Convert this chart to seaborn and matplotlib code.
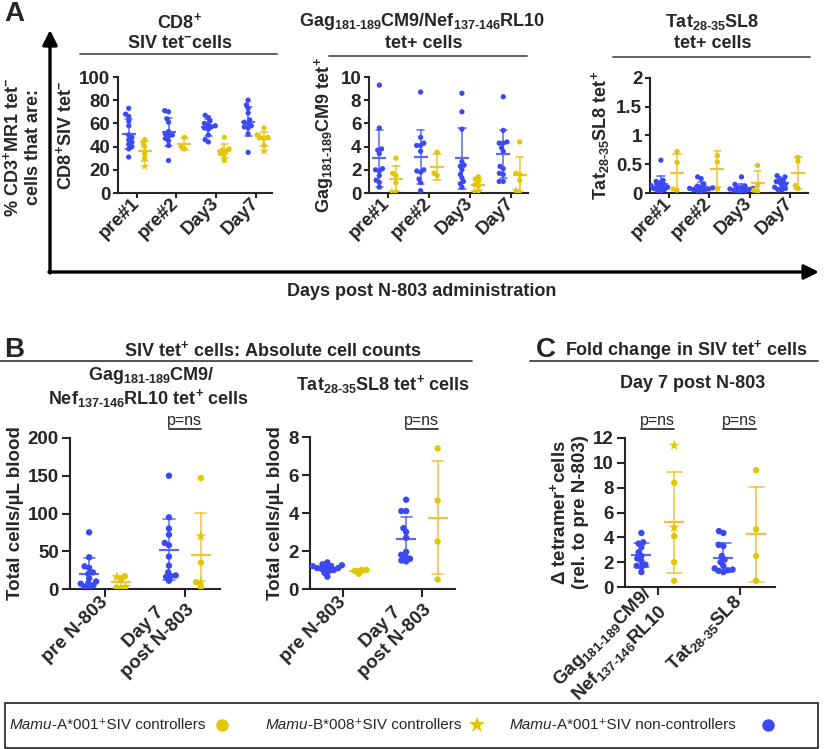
import warnings
warnings.filterwarnings('ignore')
import numpy as np
import pandas as pd
import matplotlib
matplotlib.use('Agg')
import matplotlib.pyplot as plt
import seaborn as sns
from matplotlib.markers import MarkerStyle
from matplotlib.patches import FancyArrowPatch, Rectangle
from matplotlib.lines import Line2D
from matplotlib.transforms import blended_transform_factory, Affine2D
from matplotlib.colors import to_rgba

# ------------------------------------------------------------------ data
days_A = ['pre#1', 'pre#2', 'Day3', 'Day7']

cd8_nc = [[73, 68, 66, 62, 58, 50, 48, 46, 44, 42, 40, 38, 31],
          [71, 70, 64, 61, 53, 51, 50, 49, 47, 45, 41, 28],
          [67, 65, 62, 60, 59, 58, 57, 56, 55, 50, 46, 44],
          [80, 76, 73, 69, 63, 61, 60, 58, 57, 56, 51, 35]]
cd8_a001 = [[46, 40, 34, 30], [48, 40, 38], [48, 38, 36, 34, 28], [56, 50, 48, 47, 41]]
cd8_b008 = [[43, 23], [], [37, 33], [48, 36]]

gag_nc = [[9.3, 5.6, 3.8, 3.7, 3.4, 2.1, 2.0, 1.9, 1.5, 1.1, 0.9, 0.5],
          [8.7, 4.8, 4.3, 4.1, 4.1, 3.6, 2.0, 1.9, 1.8, 1.2, 0.9, 0.2],
          [8.6, 7.0, 5.5, 2.7, 2.4, 2.3, 2.0, 1.6, 1.3, 1.0, 0.8, 0.5],
          [8.3, 5.4, 4.4, 4.3, 4.3, 3.9, 3.6, 2.3, 2.1, 1.7, 1.6, 1.0, 1.0]]
gag_a001 = [[3.0, 1.7, 1.5, 0.9], [3.5, 1.7, 1.5], [1.4, 1.2, 1.0, 0.7, 0.6], [4.4, 1.7, 1.6, 1.1]]
gag_b008 = [[0.1, 0.1], [], [0.1, 0.1], [0.1, 0.2]]

tat_nc = [[0.57, 0.22, 0.2, 0.18, 0.15, 0.13, 0.12, 0.1, 0.1, 0.08, 0.06, 0.05, 0.03],
          [0.28, 0.25, 0.15, 0.12, 0.1, 0.09, 0.08, 0.07, 0.06, 0.05, 0.04, 0.03],
          [0.28, 0.15, 0.12, 0.1, 0.09, 0.08, 0.07, 0.06, 0.05, 0.04, 0.03, 0.02],
          [0.3, 0.28, 0.25, 0.22, 0.2, 0.18, 0.15, 0.12, 0.1, 0.08, 0.06, 0.05]]
tat_a001 = [[0.72, 0.53, 0.07, 0.05], [0.65, 0.54, 0.07], [0.48, 0.13, 0.05, 0.03], [0.62, 0.55, 0.13, 0.08]]
tat_b008 = [[], [], [], []]

days_B = ['pre N-803', 'Day 7\npost N-803']
abs_gag_nc = [[75, 42, 30, 28, 22, 20, 14, 10, 8, 7, 5, 3, 2],
              [150, 95, 80, 72, 61, 58, 43, 31, 22, 18, 17, 16, 11]]
abs_gag_a001 = [[17, 13, 2, 1], [147, 35, 9, 2]]
abs_gag_b008 = [[16, 3], [70, 9]]

abs_tat_nc = [[1.4, 1.3, 1.25, 1.2, 1.2, 1.15, 1.1, 1.1, 1.05, 1.0, 0.95, 0.85, 0.65],
              [4.7, 4.1, 4.1, 3.2, 3.0, 2.7, 1.95, 1.8, 1.7, 1.6, 1.5, 1.45]]
abs_tat_a001 = [[0.8, 0.95, 1.0, 1.0], [7.4, 4.65, 2.5, 0.5]]
abs_tat_b008 = [[], []]

epitopes_C = [r'Gag$_{181\text{-}189}$CM9/' + '\n' + r'Nef$_{137\text{-}146}$RL10',
              r'Tat$_{28\text{-}35}$SL8']
fold_nc = [[4.35, 3.6, 3.5, 3.2, 2.8, 2.5, 2.3, 2.1, 1.8, 1.7, 1.6, 1.2],
           [4.5, 4.35, 3.4, 3.3, 2.5, 2.2, 2.0, 1.7, 1.5, 1.4, 1.35, 1.3, 1.2]]
fold_a001 = [[8.4, 4.1, 2.0, 0.5], [9.4, 4.65, 2.5, 0.5]]
fold_b008 = [[11.4, 4.8], []]

legend_labels = ['-A*001\u207aSIV controllers', '-B*008\u207aSIV controllers',
                 '-A*001\u207aSIV non-controllers']

# ------------------------------------------------------------------ style
BLUE = '#3b49f2'
YEL = '#e3c500'
BLUE_L = '#5b68f0'
YEL_L = '#f0c238'

sns.set_style('ticks')
plt.rcParams['font.family'] = ['Liberation Sans', 'DejaVu Sans']
plt.rcParams['mathtext.fontset'] = 'custom'
plt.rcParams['mathtext.rm'] = 'Liberation Sans:bold'
plt.rcParams['mathtext.it'] = 'Liberation Sans:bold:italic'
plt.rcParams['mathtext.bf'] = 'Liberation Sans:bold'
plt.rcParams['axes.linewidth'] = 1.5
plt.rcParams['xtick.major.width'] = 1.5
plt.rcParams['ytick.major.width'] = 1.5

W, H = 825, 749
fig = plt.figure(figsize=(W / 100, H / 100), dpi=100)

FS = 13
SWARMS = []


def fx(x):
    return x / W


def fy(y):
    return 1 - y / H


def add_ax(l, t, r, b):
    return fig.add_axes([fx(l), fy(b), (r - l) / W, (b - t) / H])


def make_df(cats, nc, a001, b008):
    rows = []
    for i, c in enumerate(cats):
        for v in nc[i]:
            rows.append((c, 'nc', v))
        for v in a001[i]:
            rows.append((c, 'c', v))
        for v in b008[i]:
            rows.append((c, 'c', v))
    return pd.DataFrame(rows, columns=['cat', 'grp', 'val'])


_circ = MarkerStyle('o')
CIRC_PATH = _circ.get_path().transformed(_circ.get_transform())
_star = MarkerStyle('*')
STAR_PATH = _star.get_path().transformed(Affine2D(_star.get_transform().get_matrix()).scale(1.75))


def panel(ax, cats, nc, a001, b008, size, mean_ms, capsize, tick_len):
    df = make_df(cats, nc, a001, b008)
    n0 = len(ax.collections)
    # swarm layout computed with a slightly smaller marker so points may touch/overlap
    sns.swarmplot(data=df, x='cat', y='val', hue='grp', hue_order=['nc', 'c'], order=cats,
                  dodge=True, palette={'nc': BLUE, 'c': YEL}, size=size * 0.72, linewidth=0,
                  legend=False, ax=ax)
    yel = np.array(to_rgba(YEL))
    colls = list(ax.collections[n0:])
    for coll in colls:
        off = coll.get_offsets()
        if len(off) == 0:
            continue
        fc = coll.get_facecolor()
        if len(fc) == 0 or not np.allclose(fc[0][:3], yel[:3], atol=0.02):
            continue
        ci = int(round(float(np.mean(off[:, 0]))))
        stars = list(b008[ci])
        paths = []
        for yv in off[:, 1]:
            hit = [k for k, s in enumerate(stars) if abs(s - yv) < 1e-9]
            if hit:
                stars.pop(hit[0])
                paths.append(STAR_PATH)
            else:
                paths.append(CIRC_PATH)
        coll.set_paths(paths)
    SWARMS.append((colls, size))
    sns.pointplot(data=df, x='cat', y='val', hue='grp', hue_order=['nc', 'c'], order=cats,
                  dodge=0.4, errorbar='sd', capsize=capsize, linestyle='none', marker='_',
                  markersize=mean_ms, markeredgewidth=1.6, err_kws={'linewidth': 1.1},
                  palette={'nc': BLUE_L, 'c': YEL_L}, legend=False, ax=ax)
    sns.despine(ax=ax)
    ax.set_xlabel('')
    ax.tick_params(labelsize=FS + 0.5, length=tick_len, pad=2)


def style_xlabels(ax, labels, fs=FS + 0.5, multi='center'):
    ax.set_xticks(range(len(labels)))
    ax.set_xticklabels(labels, rotation=45, ha='right', va='center', rotation_mode='anchor',
                       fontsize=fs, fontweight='bold', multialignment=multi)
    for lab in ax.get_yticklabels():
        lab.set_fontweight('bold')
        lab.set_fontsize(FS + 0.5)


def ftext(x, y, s, **kw):
    d = dict(ha='center', va='center', fontsize=FS, fontweight='bold')
    d.update(kw)
    return fig.text(fx(x), fy(y), s, **d)


def hline(x0, x1, y, color='#555555', lw=1.3):
    fig.add_artist(Line2D([fx(x0), fx(x1)], [fy(y), fy(y)], transform=fig.transFigure,
                          color=color, lw=lw))


def pns(ax, xcat, half=0.2):
    tr = blended_transform_factory(ax.transData, fig.transFigure)
    ax.text(xcat, fy(421), 'p=ns', transform=tr, ha='center', va='center',
            fontsize=11.5, fontweight='normal')
    ax.add_artist(Line2D([xcat - half, xcat + half], [fy(429), fy(429)], transform=tr,
                         color='#333333', lw=1.3, clip_on=False))


# ------------------------------------------------------------------ panel A
a1 = add_ax(118, 77, 272, 193)
panel(a1, days_A, cd8_nc, cd8_a001, cd8_b008, 3.8, 10, 0.18, 3.5)
a1.set_ylim(0, 100)
a1.set_yticks([0, 20, 40, 60, 80, 100])
a1.set_xlim(-0.47, 3.4)
a1.set_ylabel(r'CD8$^{+}$SIV tet$^{-}$', fontsize=FS, fontweight='bold', labelpad=3)
style_xlabels(a1, days_A)

a2 = add_ax(369, 77, 528, 193)
panel(a2, days_A, gag_nc, gag_a001, gag_b008, 3.8, 10, 0.18, 3.5)
a2.set_ylim(0, 10)
a2.set_yticks([0, 2, 4, 6, 8, 10])
a2.set_xlim(-0.45, 3.4)
a2.set_ylabel(r'Gag$_{181\text{-}189}$CM9 tet$^{+}$', fontsize=FS, fontweight='bold', labelpad=3)
style_xlabels(a2, days_A)

a3 = add_ax(650, 78, 808, 193)
panel(a3, days_A, tat_nc, tat_a001, tat_b008, 3.8, 10, 0.18, 3.5)
a3.set_ylim(0, 2)
a3.set_yticks([0, 0.5, 1, 1.5, 2])
a3.set_yticklabels(['0', '0.5', '1', '1.5', '2'])
a3.set_xlim(-0.47, 3.45)
a3.set_ylabel(r'Tat$_{28\text{-}35}$SL8 tet$^{+}$', fontsize=FS, fontweight='bold', labelpad=3)
style_xlabels(a3, days_A)

ftext(14, 14, 'A', fontsize=20)
ftext(180, 22, r'CD8$^{+}$')
ftext(180, 44, r'SIV tet$^{-}$cells')
hline(80, 277, 54)
ftext(422, 22, r'Gag$_{181\text{-}189}$CM9/Nef$_{137\text{-}146}$RL10')
ftext(424, 43, 'tet+ cells')
hline(329, 527, 56)
ftext(712, 22, r'Tat$_{28\text{-}35}$SL8')
ftext(713, 43, 'tet+ cells')
hline(613, 810, 57)
ftext(22, 147, '% CD3$^{+}$MR1 tet$^{-}$\ncells that are:', rotation=90, multialignment='center')
ftext(422, 292, 'Days post N-803 administration')

fig.add_artist(FancyArrowPatch((fx(50), fy(273)), (fx(50), fy(30)), transform=fig.transFigure,
                               arrowstyle='-|>', mutation_scale=22, lw=2.4, color='k',
                               shrinkA=0, shrinkB=0))
fig.add_artist(FancyArrowPatch((fx(49), fy(272)), (fx(819), fy(272)), transform=fig.transFigure,
                               arrowstyle='-|>', mutation_scale=22, lw=2.4, color='k',
                               shrinkA=0, shrinkB=0))

# ------------------------------------------------------------------ panel B
catsB = ['pre', 'd7']
b1 = add_ax(70, 438, 220, 589)
panel(b1, catsB, abs_gag_nc, abs_gag_a001, abs_gag_b008, 4.6, 15, 0.14, 6)
b1.set_ylim(0, 200)
b1.set_yticks([0, 50, 100, 150, 200])
b1.set_xlim(-0.44, 1.44)
b1.set_ylabel('Total cells/µL blood', fontsize=FS + 0.5, fontweight='bold', labelpad=3)
style_xlabels(b1, days_B)
pns(b1, 1)

b2 = add_ax(310, 437, 455, 589)
panel(b2, catsB, abs_tat_nc, abs_tat_a001, abs_tat_b008, 4.6, 15, 0.14, 6)
b2.set_ylim(0, 8)
b2.set_yticks([0, 2, 4, 6, 8])
b2.set_xlim(-0.42, 1.42)
b2.set_ylabel('Total cells/µL blood', fontsize=FS + 0.5, fontweight='bold', labelpad=3)
style_xlabels(b2, days_B)
pns(b2, 1)

ftext(14, 350, 'B', fontsize=20)
ftext(273, 350, r'SIV tet$^{+}$ cells: Absolute cell counts')
hline(0, 472, 361, color='#444444')
ftext(151, 375, r'Gag$_{181\text{-}189}$CM9/')
ftext(149, 399, r'Nef$_{137\text{-}146}$RL10 tet$^{+}$ cells')
ftext(383, 385, r'Tat$_{28\text{-}35}$SL8 tet$^{+}$ cells')

# ------------------------------------------------------------------ panel C
catsC = ['gag', 'tat']
c1 = add_ax(625, 438, 775, 587)
panel(c1, catsC, fold_nc, fold_a001, fold_b008, 4.6, 14, 0.18, 6)
c1.set_ylim(0, 12)
c1.set_yticks([0, 2, 4, 6, 8, 10, 12])
c1.set_xlim(-0.4, 1.43)
c1.set_ylabel('\u0394 tetramer$^{+}$cells\n(rel. to pre N-803)', fontsize=FS + 0.5,
              fontweight='bold', labelpad=3)
style_xlabels(c1, epitopes_C)
pns(c1, 0)
pns(c1, 1)

ftext(546, 350, 'C', fontsize=20)
ftext(686, 350, r'Fold change in SIV tet$^{+}$ cells')
hline(530, 818, 361, color='#444444')
ftext(693, 383, 'Day 7 post N-803')

# ------------------------------------------------------------------ legend box
fig.add_artist(Rectangle((fx(5), fy(748)), (818 - 5) / W, (748 - 703) / H,
                         transform=fig.transFigure, fill=False, lw=1.2, ec='#222222'))
renderer = fig.canvas.get_renderer()
leg_x = [10, 266, 510]
mk_x = [222, 477, 768]
mk_style = [('o', YEL, 9), ('*', YEL, 12), ('o', BLUE, 9)]
for lx, mx, lab, (m, col, ms) in zip(leg_x, mk_x, legend_labels, mk_style):
    t1 = fig.text(fx(lx), fy(725), 'Mamu', style='italic', fontsize=11, va='center', ha='left')
    bb = t1.get_window_extent(renderer)
    fig.text(bb.x1 / W, fy(725), lab, fontsize=11, va='center', ha='left')
    fig.add_artist(Line2D([fx(mx)], [fy(725)], transform=fig.transFigure, marker=m,
                          color=col, markersize=ms, linestyle='none', markeredgewidth=0))

# let seaborn lay out the swarms, then keep those positions and enlarge the dots
fig.canvas.draw()
for colls, size in SWARMS:
    for c in colls:
        if 'draw' in c.__dict__:
            del c.draw
        c.set_sizes([size ** 2])

fig.savefig('out.png', dpi=100)
